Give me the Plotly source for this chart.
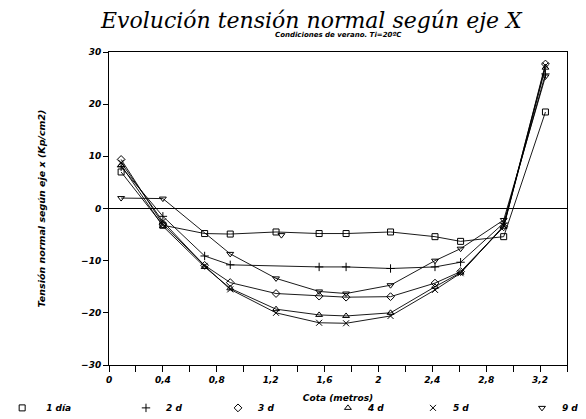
import plotly.graph_objects as go

# cota (m) de los puntos de cada serie
cota = [0.09, 0.40, 0.71, 0.90, 1.24, 1.56, 1.76, 2.09, 2.42, 2.61, 2.93, 3.24]
cota_2d = [0.09, 0.40, 0.71, 0.90, 1.56, 1.76, 2.09, 2.42, 2.61, 2.93, 3.24]
cota_9d = [0.09, 0.40, 0.90, 1.24, 1.56, 1.76, 2.09, 2.42, 2.61, 2.93, 3.24]

# tension normal segun eje x (Kp/cm2)
t_1dia = [7.0, -3.2, -4.8, -4.9, -4.5, -4.8, -4.8, -4.5, -5.4, -6.3, -5.4, 18.5]
t_2d = [8.0, -1.5, -9.1, -10.8, -11.2, -11.2, -11.5, -11.2, -10.3, -2.8, 25.8]
t_3d = [9.4, -3.0, -10.9, -14.2, -16.3, -16.8, -17.0, -16.9, -14.3, -12.1, -3.5, 27.7]
t_4d = [8.3, -3.4, -11.2, -15.3, -19.3, -20.4, -20.6, -20.0, -15.0, -12.3, -3.5, 27.0]
t_5d = [8.8, -2.5, -11.0, -15.5, -20.0, -21.9, -22.0, -20.6, -15.6, -12.4, -3.3, 27.4]
t_9d = [2.0, 1.9, -8.7, -13.4, -15.9, -16.3, -14.7, -10.0, -7.7, -2.2, 25.3]

# punto suelto junto a la serie de 1 dia
suelto_x = [1.28]
suelto_y = [-5.1]

series = [
    ("1 día", cota, t_1dia, "square-open"),
    ("2 d", cota_2d, t_2d, "cross-thin-open"),
    ("3 d", cota, t_3d, "diamond-open"),
    ("4 d", cota, t_4d, "triangle-up-open"),
    ("5 d", cota, t_5d, "x-thin-open"),
    ("9 d", cota_9d, t_9d, "triangle-down-open"),
]

# posicion (x de papel) de cada entrada de la leyenda
legend_x = [-0.242, 0.0371, 0.238, 0.478, 0.6637, 0.9017]

fig = go.Figure()

for name, x, y, sym in series:
    fig.add_trace(go.Scatter(
        x=x, y=y, mode="lines+markers", name=name, showlegend=False,
        line=dict(color="black", width=0.9),
        marker=dict(symbol=sym, size=6, color="black", line=dict(color="black", width=1)),
    ))

fig.add_trace(go.Scatter(
    x=suelto_x, y=suelto_y, mode="markers", showlegend=False,
    marker=dict(symbol="triangle-down-open", size=6, color="black", line=dict(color="black", width=1)),
))

tick_font = dict(family="DejaVu Sans", size=9, color="black", style="italic", weight="bold")

# entradas de leyenda solo con el simbolo, cada una en su propia leyenda
legends = {}
for i, (name, x, y, sym) in enumerate(series):
    key = "legend" if i == 0 else f"legend{i + 1}"
    fig.add_trace(go.Scatter(
        x=[None], y=[None], mode="markers", name=name, legend=key,
        marker=dict(symbol=sym, size=6, color="black", line=dict(color="black", width=1)),
    ))
    legends[key] = dict(
        xref="paper", yref="paper", x=legend_x[i], y=-0.137,
        xanchor="left", yanchor="middle", font=tick_font,
        itemwidth=38 if i == 0 else 30, bgcolor="rgba(0,0,0,0)",
    )

fig.update_xaxes(
    range=[0, 3.4], tick0=0, dtick=0.4,
    ticks="outside", ticklen=6, tickcolor="black", tickfont=tick_font,
    minor=dict(dtick=0.2, tick0=0, ticks="outside", ticklen=6, tickcolor="black"),
    showline=True, linecolor="black", linewidth=1, mirror=True,
    showgrid=False, zeroline=False, automargin=False,
    title=dict(text="Cota (metros)", font=tick_font, standoff=10),
)
fig.update_yaxes(
    range=[-30, 30], dtick=10,
    ticks="outside", ticklen=5, tickcolor="black", tickfont=tick_font,
    showline=True, linecolor="black", linewidth=1, mirror=True,
    showgrid=False, zeroline=True, zerolinecolor="black", zerolinewidth=1, automargin=False,
    title=dict(text="Tensión normal según eje x (Kp/cm2)",
               font=dict(family="DejaVu Sans", size=9.5, color="black", style="italic", weight="bold"),
               standoff=33),
)

# la pagina deja 8 px de margen: la figura ocupa el resto de la ventana
fig.update_layout(
    width=578, height=411,
    margin=dict(l=101, r=19, t=44, b=54, autoexpand=False),
    plot_bgcolor="white", paper_bgcolor="white",
    separators=", ",
    font=dict(family="DejaVu Sans", size=9, color="black"),
    annotations=[
        dict(text="Evolución tensión normal según eje X", xref="paper", yref="paper",
             x=0.443, y=1.1, xanchor="center", yanchor="middle", showarrow=False,
             font=dict(family="DejaVu Serif", size=22, color="black", style="italic")),
        dict(text="Condiciones de verano. Ti=20ºC", xref="paper", yref="paper",
             x=0.5, y=1.053, xanchor="center", yanchor="middle", showarrow=False,
             font=dict(family="DejaVu Sans", size=7, color="black", style="italic", weight="bold")),
    ],
    **legends,
)

fig.write_html("out.html")
